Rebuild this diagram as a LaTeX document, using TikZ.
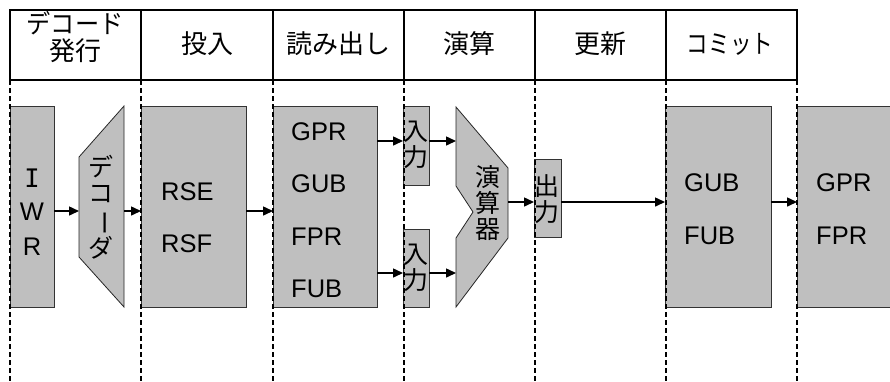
\documentclass[tikz,border=0pt]{standalone}
\usepackage{fontspec}
\setmainfont{Liberation Sans}
\newfontfamily\jp{Noto Sans CJK JP}
\newfontfamily\monoI{DejaVu Sans Mono}
\usetikzlibrary{arrows.meta}
\begin{document}
\begin{tikzpicture}[x=1pt,y=-1pt,
  box/.style={draw=black!80, fill=black!25, line width=0.8pt, outer sep=0pt, inner sep=0pt, anchor=north west},
  poly/.style={draw=black!85, fill=black!25, line width=0.8pt},
  arr/.style={line width=1.5pt, -{Triangle[length=10pt,width=9pt]}},
  sep/.style={line width=1.1pt, dash pattern=on 5pt off 3pt},
  hdr/.style={line width=1.1pt},
  lat/.style={font=\fontsize{25.5}{25.5}\selectfont, inner sep=0pt},
  jpt/.style={font=\jp\fontsize{25}{26}\selectfont, inner sep=0pt, align=center},
  jph/.style={font=\jp\fontsize{26}{27}\selectfont, inner sep=0pt, align=center}]
\useasboundingbox (0,0) rectangle (890,381);
\clip (0,0) rectangle (890,381);

% header
\draw[hdr] (10,10) rectangle (797,80);
\foreach \x in {141,273,404,535,666} \draw[hdr] (\x,10) -- (\x,80);
\node[jph] (h1) at (75,37) {\scalebox{0.93}[1]{デコード}\\発行};
\node[jph] (h2) at (207,44) {投入};
\node[jph] (h3) at (338,44) {読み出し};
\node[jph] (h4) at (469,44) {演算};
\node[jph] (h5) at (600,44) {更新};
\node[jph] (h6) at (730,44) {\scalebox{0.83}[1]{コミット}};

% boxes
\node[box, minimum width=44, minimum height=201] (iwr) at (10,106) {};
\node[lat] (iI) at (32,178) {\monoI I};
\node[lat] (iW) at (32,212) {W};
\node[lat] (iR) at (32,247) {R};

\draw[poly] (79,157) -- (124,106) -- (124,307) -- (79,257) -- cycle;
\coordinate (decL) at (79,211);
\coordinate (decR) at (124,211);
\node[jpt] (dec) at (101,207) {デ\\コ\\\rotatebox[origin=c]{-90}{ー}\\ダ};

\node[box, minimum width=105, minimum height=201] (rs) at (141,106) {};
\node[lat, anchor=west] (rse) at (161,192) {RSE};
\node[lat, anchor=west] (rsf) at (161,244) {RSF};

\node[box, minimum width=104, minimum height=201] (rd) at (273,106) {};
\node[lat, anchor=west] (g1) at (291,132) {GPR};
\node[lat, anchor=west] (g2) at (291,184) {GUB};
\node[lat, anchor=west] (g3) at (291,237) {FPR};
\node[lat, anchor=west] (g4) at (291,289) {FUB};

\node[box, minimum width=26, minimum height=79] (in1) at (403,106) {};
\node[jpt] (t1) at (416,145) {入\\力};
\node[box, minimum width=26, minimum height=78] (in2) at (403,229) {};
\node[jpt] (t2) at (416,268) {入\\力};

\draw[poly] (456,107) -- (508,168) -- (508,238) -- (456,307) -- (456,238) -- (473,212) -- (456,186) -- cycle;
\coordinate (aluA) at (456,141);
\coordinate (aluB) at (456,273);
\coordinate (aluO) at (508,202);
\node[jpt] (alu) at (488,203) {演\\算\\器};

\node[box, minimum width=27, minimum height=78] (out) at (534,159) {};
\node[jpt] (t3) at (547,199) {出\\力};

\node[box, minimum width=106, minimum height=201] (cm) at (665,106) {};
\node[lat, anchor=west] (c1) at (684,183) {GUB};
\node[lat, anchor=west] (c2) at (684,236) {FUB};

\node[box, minimum width=100, minimum height=201] (ls) at (797,106) {};
\node[lat, anchor=west] (l1) at (816,183) {GPR};
\node[lat, anchor=west] (l2) at (816,236) {FPR};

% connectors
\draw[arr] ([yshift=-4.5pt]iwr.east) -- (decL);
\draw[arr] (decR) -- ([yshift=-4.5pt]rs.west);
\draw[arr] ([yshift=-4.5pt]rs.east) -- ([yshift=-4.5pt]rd.west);
\draw[arr] ([yshift=65.5pt]rd.east) -- ([yshift=4.5pt]in1.west);
\draw[arr] ([yshift=-66.5pt]rd.east) -- ([yshift=-5pt]in2.west);
\draw[arr] ([yshift=4.5pt]in1.east) -- (aluA);
\draw[arr] ([yshift=-5pt]in2.east) -- (aluB);
\draw[arr] (aluO) -- ([yshift=-4pt]out.west);
\draw[arr] ([yshift=-4pt]out.east) -- ([yshift=4.5pt]cm.west);
\draw[arr] ([yshift=4.5pt]cm.east) -- ([yshift=4.5pt]ls.west);

% dashed stage separators
\foreach \x in {10,141,273,404,535,666,797} \draw[sep] (\x,80) -- (\x,381);
\end{tikzpicture}
\end{document}
